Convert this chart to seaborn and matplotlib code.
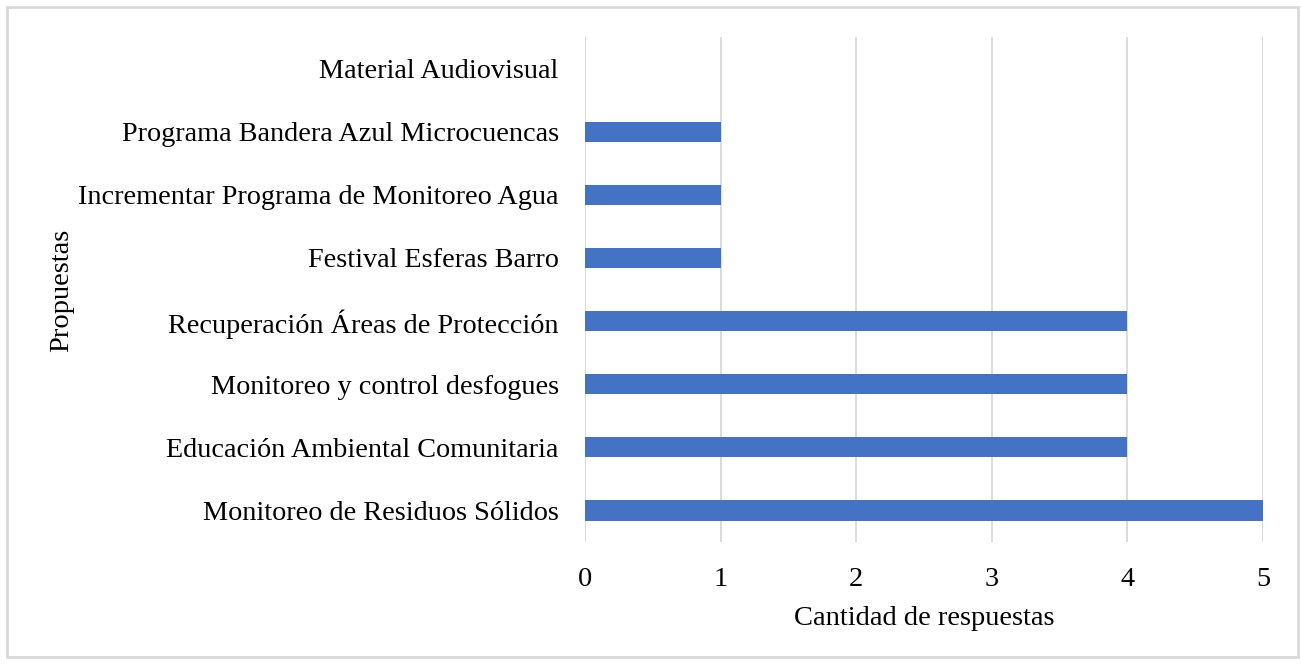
import matplotlib
matplotlib.use("Agg")
import matplotlib.pyplot as plt
import seaborn as sea
import pandas as pds
from matplotlib.patches import Rectangle

# categories and counts, bottom to top as in the chart
propuestas = [
    "Monitoreo de Residuos Sólidos",
    "Educación Ambiental Comunitaria",
    "Monitoreo y control desfogues",
    "Recuperación Áreas de Protección",
    "Festival Esferas Barro",
    "Incrementar Programa de Monitoreo Agua",
    "Programa Bandera Azul Microcuencas",
    "Material Audiovisual",
]
respuestas = [5, 4, 4, 4, 1, 1, 1, 0]
x_ticks = [0, 1, 2, 3, 4, 5]

# top row first for seaborn's categorical order
df = pds.DataFrame({"propuesta": propuestas[::-1], "cantidad": respuestas[::-1]})

sea.set_style("white")
plt.rcParams["font.family"] = ["Liberation Serif", "DejaVu Serif"]

fig = plt.figure(figsize=(13.01, 6.64), dpi=100)
ax = fig.add_axes([0.4497, 0.1837, 0.5211, 0.7606])

sea.barplot(x="cantidad", y="propuesta", data=df, color="#4472C4",
            width=0.32, saturation=1, linewidth=0, ax=ax, zorder=3)

ax.set_xlim(0, 5)
ax.set_xticks(x_ticks)
ax.set_ylim(7.5, -0.5)
ax.grid(axis="x", color="#d9d9d9", linewidth=1.3, zorder=0)
for s in ax.spines.values():
    s.set_visible(False)
ax.tick_params(axis="both", length=0, labelsize=20.3, colors="black")
ax.tick_params(axis="x", pad=18)
ax.tick_params(axis="y", pad=19)
ax.set_xlabel("Cantidad de respuestas", fontsize=20.5, color="black", va="center")
ax.set_ylabel("Propuestas", fontsize=20.5, color="black", va="center")
ax.xaxis.set_label_coords((924 - 585) / 678, (542 - 619) / 506)
ax.yaxis.set_label_coords((62 - 585) / 678, (542 - 290) / 506)

# light border round the chart area
fig.patches.append(Rectangle((7 / 1301, 1 - 657 / 664), 1291 / 1301, 650 / 664,
                             transform=fig.transFigure, fill=False,
                             edgecolor="#d9d9d9", linewidth=2))

fig.savefig("out.png", dpi=100)
